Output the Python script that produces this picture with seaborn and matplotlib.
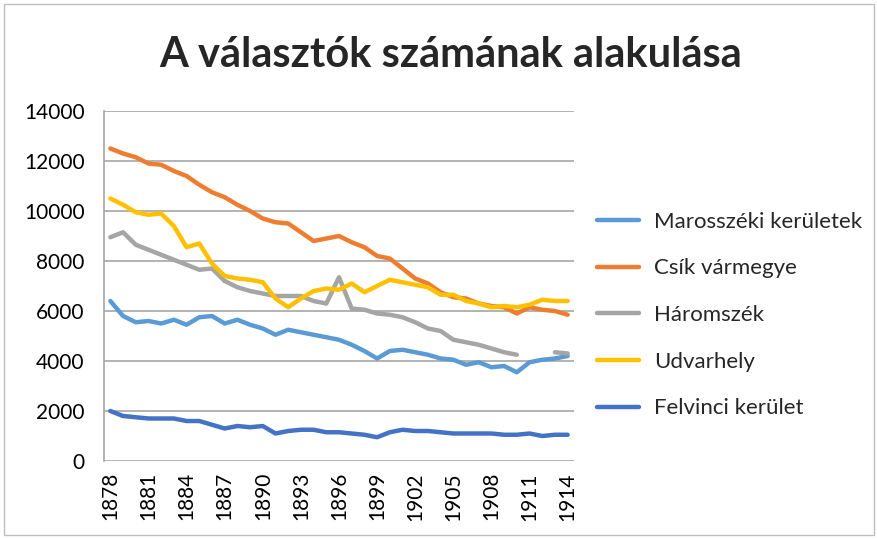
import numpy as np
import pandas as pd
import matplotlib
matplotlib.use("Agg")
import matplotlib.pyplot as plt
import seaborn as sns

years = list(range(1878, 1915))

marosszek = [6400, 5800, 5550, 5600, 5500, 5650, 5450, 5750, 5800, 5500,
             5650, 5450, 5300, 5050, 5250, 5150, 5050, 4950, 4850, 4650,
             4400, 4100, 4400, 4450, 4350, 4250, 4100, 4050, 3850, 3950,
             3750, 3800, 3550, 3950, 4050, 4100, 4200]
csik = [12500, 12300, 12150, 11900, 11850, 11600, 11400, 11050, 10750, 10550,
        10250, 10000, 9700, 9550, 9500, 9150, 8800, 8900, 9000, 8750,
        8550, 8200, 8100, 7700, 7300, 7100, 6750, 6550, 6500, 6300,
        6200, 6150, 5900, 6150, 6050, 6000, 5850]
haromszek = [8950, 9150, 8650, 8450, 8250, 8050, 7850, 7650, 7700, 7200,
             6950, 6800, 6700, 6600, 6600, 6600, 6400, 6300, 7350, 6100,
             6050, 5900, 5850, 5750, 5550, 5300, 5200, 4850, 4750, 4650,
             4500, 4350, 4250, np.nan, np.nan, 4350, 4300]
udvarhely = [10500, 10250, 9950, 9850, 9900, 9400, 8550, 8700, 7900, 7400,
             7300, 7250, 7150, 6500, 6150, 6500, 6800, 6900, 6850, 7100,
             6750, 7000, 7250, 7150, 7050, 6950, 6650, 6650, 6400, 6300,
             6150, 6200, 6150, 6250, 6450, 6400, 6400]
felvinc = [2000, 1800, 1750, 1700, 1700, 1700, 1600, 1600, 1450, 1300,
           1400, 1350, 1400, 1100, 1200, 1250, 1250, 1150, 1150, 1100,
           1050, 950, 1150, 1250, 1200, 1200, 1150, 1100, 1100, 1100,
           1100, 1050, 1050, 1100, 1000, 1050, 1050]

series_names = ["Marosszéki kerületek", "Csík vármegye", "Háromszék",
                "Udvarhely", "Felvinci kerület"]
series_values = [marosszek, csik, haromszek, udvarhely, felvinc]
colors = ["#5B9BD5", "#ED7D31", "#A5A5A5", "#FFC000", "#4472C4"]

# long form; a gap in the data starts a new unit so the line breaks there
rows = []
for name, vals in zip(series_names, series_values):
    seg = 0
    for yr, v in zip(years, vals):
        if np.isnan(v):
            seg += 1
            continue
        rows.append({"year": yr, "value": v, "series": name, "seg": f"{name}_{seg}"})
df = pd.DataFrame(rows)

sns.set_style("white")
plt.rcParams["font.family"] = ["Lato", "DejaVu Sans"]

fig = plt.figure(figsize=(8.78, 5.39), dpi=100)
ax = fig.add_axes([104 / 878, 1 - 461 / 539, 470 / 878, 350 / 539])

sns.lineplot(data=df, x="year", y="value", hue="series", units="seg",
             estimator=None, hue_order=series_names, palette=colors,
             linewidth=3.2, ax=ax, legend=True)

ax.set_xlim(1877.5, 1914.5)
ax.set_ylim(0, 14000)
ax.set_yticks(range(0, 14001, 2000))
ax.set_xticks(years[::3])
ax.set_xticklabels([str(y) for y in years[::3]], rotation=90)
ax.tick_params(axis="both", length=0, labelsize=15, colors="#000000")
ax.tick_params(axis="y", pad=14)
ax.tick_params(axis="x", pad=8)
ax.yaxis.grid(True, color="#A6A6A6", linewidth=1.2)
ax.set_axisbelow(True)
for side in ["top", "right", "bottom"]:
    ax.spines[side].set_visible(False)
ax.spines["left"].set_color("#A6A6A6")
ax.spines["left"].set_linewidth(1.2)
ax.set_xlabel("")
ax.set_ylabel("")

handles, labels = ax.get_legend_handles_labels()
ax.legend_.remove()
fig.legend(handles, labels, loc="center left", bbox_to_anchor=(597 / 878, 1 - 315 / 539),
           frameon=False, fontsize=16, handlelength=1.9, handletextpad=0.68,
           labelspacing=1.2, borderpad=0, borderaxespad=0)

fig.text(0.513, 1 - 55 / 539, "A választók számának alakulása", ha="center", va="center",
         fontsize=30, fontweight="bold")

fig.patches.append(plt.Rectangle((0.004, 0.008), 0.991, 0.985, transform=fig.transFigure,
                                 fill=False, edgecolor="#BFBFBF", linewidth=1))

fig.savefig("out.png", dpi=100)
